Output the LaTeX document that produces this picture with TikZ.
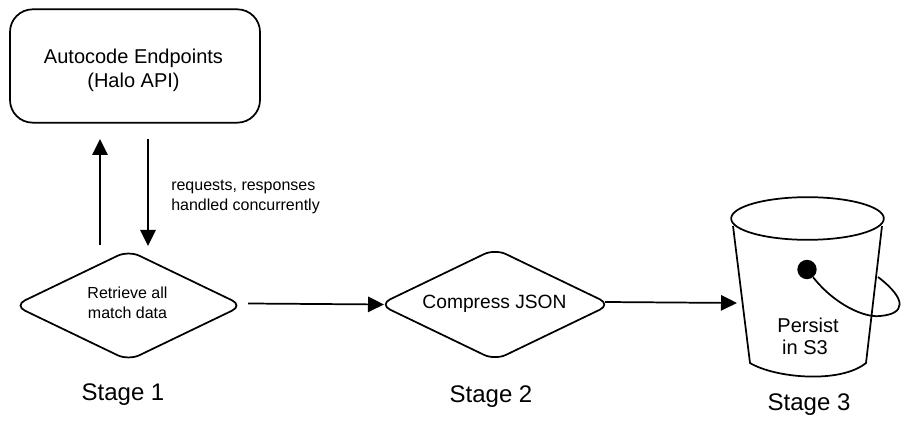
\documentclass[tikz,border=0pt]{standalone}
\usepackage{fontspec}
\setmainfont{Liberation Sans}
\usetikzlibrary{arrows.meta,shapes.geometric}
\tikzset{
  ln/.style={line width=1.3pt,black},
  arrowline/.style={ln,-{Triangle[length=12pt,width=11.5pt]}},
  decision/.style={draw,ln,shape=diamond,aspect=2.07,inner sep=0pt,minimum width=174pt,minimum height=84pt,rounded corners=9pt,align=center},
  txtbig/.style={font=\fontsize{18}{20}\selectfont,inner sep=0pt},
  txtmid/.style={font=\fontsize{15}{18}\selectfont,inner sep=0pt,align=center},
  txtsmall/.style={font=\fontsize{12}{15}\selectfont,inner sep=0pt,align=left}
}
\begin{document}
\begin{tikzpicture}[x=0.75pt,y=-0.75pt]
\useasboundingbox (0,0) rectangle (910,427);
\node[draw,ln,rounded corners=17pt,minimum width=187.5pt,minimum height=85pt,inner sep=0pt] (api) at (135,66) {};
\node[txtmid] (apitext) at (133.5,70) {Autocode Endpoints\\(Halo API)};
\node[decision,minimum width=172pt,minimum height=83pt] (d1) at (128.5,305.5) {};
\node[txtsmall,align=center] (d1text) at (127.5,302.5) {Retrieve all\\match data};
\node[decision] (d2) at (495,304.5) {};
\node[font=\fontsize{14.4}{18}\selectfont,inner sep=0pt] (d2text) at (494.5,304) {Compress JSON};
\node[txtsmall,anchor=west] (note) at (171,197) {requests, responses\\handled concurrently};
\node[txtbig] (s1) at (123,394.5) {Stage 1};
\node[txtbig] (s2) at (491,396.5) {Stage 2};
\node[txtbig] (s3) at (809,404.5) {Stage 3};
% bucket
\node[draw,ln,shape=ellipse,minimum width=114.5pt,minimum height=32pt,inner sep=0pt] (rim) at (807.5,218.5) {};
\draw[ln] (733,226) -- (750,363) .. controls (775,378) and (840,384) .. (866,363) -- (882,226);
\node[circle,fill=black,minimum size=14.5pt,inner sep=0pt] (dot) at (807,269.5) {};
\draw[ln] (dot) .. controls (835,305) and (865,318) .. (880,316) .. controls (905,314) and (908,300) .. (878,277);
\node[txtmid] (persist) at (808,325) {Persist};
\node[txtmid] (ins3) at (805,347) {in S3};
% free ends
\coordinate (upstart) at (100,245);
\coordinate (upend) at (100,139);
\coordinate (downstart) at (148,139);
\coordinate (downend) at (148,246);
\coordinate (a1s) at (248,303.5);
\coordinate (a1e) at (384,304.5);
\coordinate (a2s) at (605,302);
\coordinate (a2e) at (737,303);
\draw[arrowline] (upstart) -- (upend);
\draw[arrowline] (downstart) -- (downend);
\draw[arrowline] (a1s) -- (a1e);
\draw[arrowline] (a2s) -- (a2e);
\end{tikzpicture}
\end{document}
